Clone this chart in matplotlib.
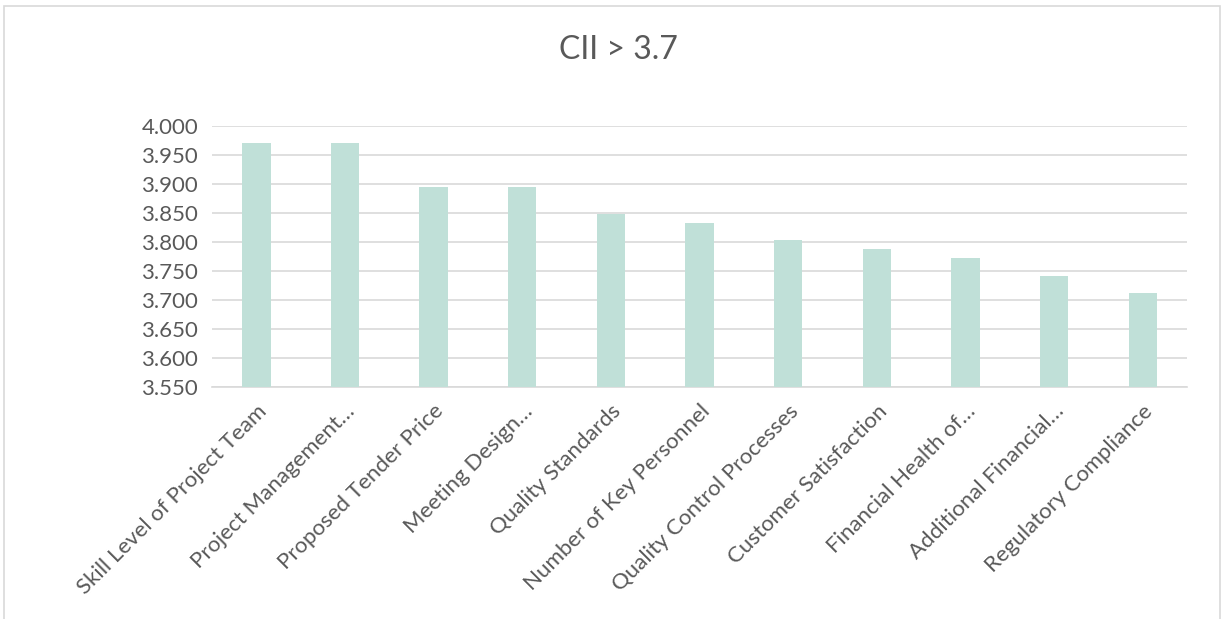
import matplotlib
matplotlib.use("Agg")
import matplotlib.pyplot as plt
from matplotlib.patches import Rectangle

categories = ["Skill Level of Project Team", "Project Management…", "Proposed Tender Price",
              "Meeting Design…", "Quality Standards", "Number of Key Personnel",
              "Quality Control Processes", "Customer Satisfaction", "Financial Health of…",
              "Additional Financial…", "Regulatory Compliance"]
values = [3.970, 3.970, 3.894, 3.894, 3.848, 3.833, 3.803, 3.788, 3.773, 3.742, 3.712]
yticks = [3.55, 3.60, 3.65, 3.70, 3.75, 3.80, 3.85, 3.90, 3.95, 4.00]
title = "CII > 3.7"

plt.rcParams['font.family'] = ['Lato', 'DejaVu Sans']
txt = "#595959"

fig = plt.figure(figsize=(12.25, 6.19), dpi=100)
fig.patches.append(Rectangle((4/1225, -0.01), 1216/1225, 1 - 6/619 + 0.01, transform=fig.transFigure,
                             fill=False, edgecolor="#d9d9d9", linewidth=1.2))
ax = fig.add_axes([212/1225, 1 - 387/619, 975/1225, 261/619])
x = range(len(categories))
ax.bar(x, values, width=0.32, color="#C0E0D8", zorder=3)
ax.set_ylim(3.55, 4.0)
ax.set_xlim(-0.5, len(categories) - 0.5)
ax.set_yticks(yticks)
ax.set_yticklabels([f"{v:.3f}" for v in yticks], color=txt, fontsize=16)
ax.set_xticks(list(x))
ax.set_xticklabels(categories, rotation=45, ha="right", rotation_mode="anchor", color=txt, fontsize=16)
ax.tick_params(axis="y", length=0, pad=10)
ax.tick_params(axis="x", length=0, pad=10)
ax.grid(axis="y", color="#d9d9d9", linewidth=1.2, zorder=0)
for s in ["top", "right", "left"]:
    ax.spines[s].set_visible(False)
ax.spines["bottom"].set_color("#d9d9d9")
ax.spines["bottom"].set_linewidth(1.2)
fig.text(618/1225, 1 - 50/619, title, ha="center", va="center", fontsize=23, color=txt)
fig.savefig("out.png", dpi=100)
